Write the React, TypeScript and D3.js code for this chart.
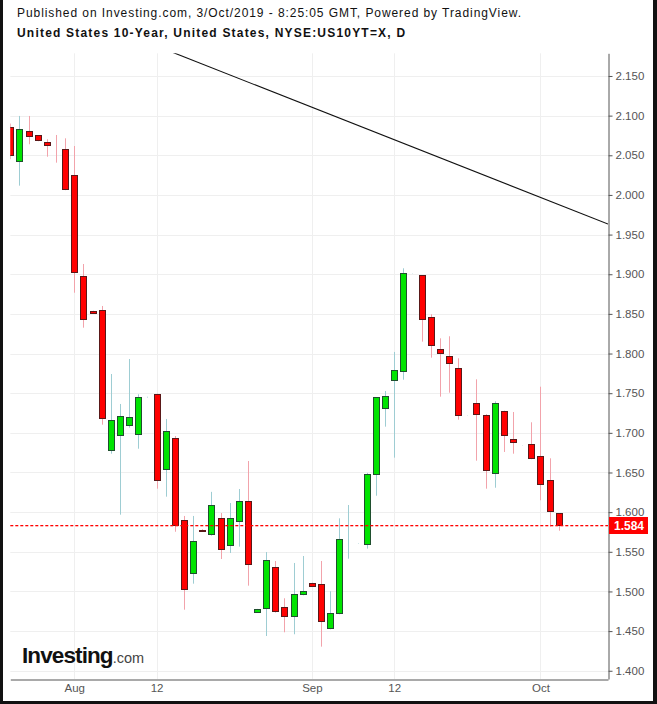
import * as d3 from "d3";
import React, { useEffect, useRef } from "react";

// Daily candles (investing.com feed includes Sunday sessions)
const dates = [
  "2019-07-24", "2019-07-25", "2019-07-26", "2019-07-28", "2019-07-29", "2019-07-30", "2019-07-31",
  "2019-08-01", "2019-08-02", "2019-08-04", "2019-08-05", "2019-08-06", "2019-08-07", "2019-08-08",
  "2019-08-09", "2019-08-11", "2019-08-12", "2019-08-13", "2019-08-14", "2019-08-15", "2019-08-16",
  "2019-08-18", "2019-08-19", "2019-08-20", "2019-08-21", "2019-08-22", "2019-08-23", "2019-08-25",
  "2019-08-26", "2019-08-27", "2019-08-28", "2019-08-29", "2019-08-30", "2019-09-01", "2019-09-03",
  "2019-09-04", "2019-09-05", "2019-09-06", "2019-09-08", "2019-09-09", "2019-09-10", "2019-09-11",
  "2019-09-12", "2019-09-13", "2019-09-15", "2019-09-16", "2019-09-17", "2019-09-18", "2019-09-19",
  "2019-09-20", "2019-09-22", "2019-09-23", "2019-09-24", "2019-09-25", "2019-09-26", "2019-09-27",
  "2019-09-29", "2019-09-30", "2019-10-01", "2019-10-02", "2019-10-03",
];
const opens = [
  2.0853, 2.0424, 2.0803, 2.0752, 2.0664, 2.0608, 2.0576,
  2.0248, 1.8974, 1.8533, 1.8545, 1.678, 1.6969, 1.709,
  1.6982, 1.7448, 1.7486, 1.654, 1.6931, 1.5897, 1.5237,
  1.5773, 1.5721, 1.5922, 1.5582, 1.5885, 1.6137, 1.4737,
  1.4782, 1.5304, 1.48, 1.4687, 1.4964, 1.5103, 1.509,
  1.4535, 1.4725, 1.5603, 1.5603, 1.5594, 1.6477, 1.731,
  1.7663, 1.7776, 1.901, 1.8987, 1.8457, 1.8054, 1.7965,
  1.7814, 1.7221, 1.7373, 1.7221, 1.649, 1.7272, 1.6919,
  1.6843, 1.6856, 1.6704, 1.6405, 1.5986,
];
const highs = [
  2.09, 2.0996, 2.0996, 2.0752, 2.0702, 2.0756, 2.0714,
  2.0617, 1.9129, 1.854, 1.86, 1.7742, 1.7364, 1.7931,
  1.7486, 1.7455, 1.7495, 1.7175, 1.696, 1.5952, 1.5952,
  1.5785, 1.6256, 1.5989, 1.6115, 1.6292, 1.6645, 1.478,
  1.5497, 1.5384, 1.4914, 1.5359, 1.5447, 1.511, 1.5384,
  1.5002, 1.5922, 1.609, 1.5606, 1.6495, 1.745, 1.7528,
  1.802, 1.9075, 1.9012, 1.899, 1.8495, 1.8192, 1.8218,
  1.794, 1.7223, 1.7675, 1.7236, 1.7398, 1.728, 1.7263,
  1.6845, 1.7133, 1.7582, 1.6679, 1.5986,
];
const lows = [
  2.045, 2.0117, 2.0639, 2.0677, 2.0482, 2.0407, 2.006,
  1.8767, 1.8326, 1.85, 1.7103, 1.6737, 1.5968, 1.7065,
  1.68, 1.7445, 1.6296, 1.6195, 1.5753, 1.477, 1.5098,
  1.5755, 1.5703, 1.5409, 1.5485, 1.5565, 1.5073, 1.4735,
  1.4438, 1.4732, 1.4485, 1.446, 1.4951, 1.506, 1.4304,
  1.4522, 1.4712, 1.5413, 1.56, 1.554, 1.6207, 1.7078,
  1.6687, 1.767, 1.9008, 1.815, 1.7948, 1.7456, 1.7506,
  1.7166, 1.7219, 1.6649, 1.6296, 1.6308, 1.6759, 1.6737,
  1.6841, 1.6667, 1.615, 1.5817, 1.5766,
];
const closes = [
  2.0495, 2.0828, 2.0735, 2.0689, 2.0621, 2.0602, 2.0071,
  1.9025, 1.8432, 1.8508, 1.7183, 1.7158, 1.7209, 1.7196,
  1.7448, 1.7452, 1.6402, 1.702, 1.5834, 1.5027, 1.5636,
  1.5758, 1.6087, 1.5531, 1.5922, 1.6137, 1.5342, 1.4775,
  1.5393, 1.4749, 1.4687, 1.4964, 1.5002, 1.5065, 1.4624,
  1.4725, 1.5658, 1.5606, 1.5606, 1.6477, 1.7448, 1.7461,
  1.7789, 1.9012, 1.9012, 1.8432, 1.8104, 1.8003, 1.7877,
  1.7221, 1.7223, 1.7234, 1.6523, 1.7373, 1.6969, 1.6881,
  1.6845, 1.6679, 1.6351, 1.6011, 1.584,
];

const xTickDates = ["2019-08-01", "2019-08-12", "2019-09-01", "2019-09-12", "2019-10-01"];
const xTickLabels = ["Aug", "12", "Sep", "12", "Oct"];
const yTicks = [1.4, 1.45, 1.5, 1.55, 1.6, 1.65, 1.7, 1.75, 1.8, 1.85, 1.9, 1.95, 2.0, 2.05, 2.1, 2.15];
const lastPrice = 1.584;

// drawn trendline: bar position (index, can run past last bar) and yield
const trendIndex = [0, 65.4];
const trendValue = [2.2605, 1.9633];

const W = 657;
const H = 704;
const FONT = "'Liberation Sans', Arial, sans-serif";

const App: React.FC = () => {
  const svgRef = useRef<SVGSVGElement>(null);

  useEffect(() => {
    if (!svgRef.current) return;
    const svg = d3.select(svgRef.current);
    svg.selectAll("*").remove();

    const plot = { left: 10.3, right: 608, top: 53.3, bottom: 679 };

    const x = d3.scaleLinear().domain([0, 65.4]).range([plot.left, plot.right]);
    const y = d3.scaleLinear().domain([1.3896, 2.1786]).range([plot.bottom, plot.top]);

    // frame
    svg.append("rect").attr("width", W).attr("height", H).attr("fill", "#111");
    svg.append("rect").attr("x", 3).attr("y", 0).attr("width", 650).attr("height", 701).attr("fill", "#fff");

    // header
    svg
      .append("text")
      .attr("x", 17)
      .attr("y", 16.7)
      .attr("fill", "#111")
      .style("font-size", "12px")
      .style("letter-spacing", "0.93px")
      .text("Published on Investing.com, 3/Oct/2019 - 8:25:05 GMT, Powered by TradingView.");
    svg
      .append("text")
      .attr("x", 17)
      .attr("y", 37.3)
      .attr("fill", "#111")
      .style("font-size", "12px")
      .style("font-weight", "bold")
      .style("letter-spacing", "1.2px")
      .text("United States 10-Year, United States, NYSE:US10YT=X, D");

    svg
      .append("clipPath")
      .attr("id", "plot-clip")
      .append("rect")
      .attr("x", plot.left)
      .attr("y", plot.top)
      .attr("width", plot.right - plot.left)
      .attr("height", plot.bottom - plot.top);

    const idxOf = (d: string) => dates.indexOf(d);

    // grid
    const grid = svg.append("g").attr("stroke", "#efefef").attr("stroke-width", 1);
    yTicks.forEach((t) => {
      const yy = Math.round(y(t)) + 0.5;
      grid.append("line").attr("x1", plot.left).attr("x2", plot.right).attr("y1", yy).attr("y2", yy);
    });
    xTickDates.forEach((d) => {
      const xx = Math.round(x(idxOf(d))) + 0.5;
      grid.append("line").attr("x1", xx).attr("x2", xx).attr("y1", plot.top).attr("y2", plot.bottom);
    });

    const g = svg.append("g").attr("clip-path", "url(#plot-clip)");

    // candles
    const candles = dates.map((d, i) => ({
      i,
      o: opens[i],
      h: highs[i],
      l: lows[i],
      c: closes[i],
      up: closes[i] >= opens[i],
    }));

    g.selectAll("line.wick")
      .data(candles)
      .join("line")
      .attr("class", "wick")
      .attr("x1", (d) => Math.round(x(d.i)) + 0.5)
      .attr("x2", (d) => Math.round(x(d.i)) + 0.5)
      .attr("y1", (d) => y(d.h))
      .attr("y2", (d) => y(d.l))
      .attr("stroke", (d) => (d.up ? "#9ecdd3" : "#f2a3ab"))
      .attr("stroke-width", 1);

    g.selectAll("rect.body")
      .data(candles)
      .join("rect")
      .attr("class", "body")
      .attr("x", (d) => Math.round(x(d.i)) - 2.5)
      .attr("width", 6)
      .attr("y", (d) => Math.round(y(Math.max(d.o, d.c))) + 0.5)
      .attr("height", (d) => Math.max(0, Math.round(Math.abs(y(d.o) - y(d.c)))))
      .attr("fill", (d) => (d.up ? "#00e400" : "#ff0000"))
      .attr("stroke", (d) => (d.up ? "#1f4f2e" : "#5a1818"))
      .attr("stroke-width", 1);

    // trendline
    g.append("line")
      .attr("x1", x(trendIndex[0]))
      .attr("y1", y(trendValue[0]))
      .attr("x2", x(trendIndex[1]))
      .attr("y2", y(trendValue[1]))
      .attr("stroke", "#111")
      .attr("stroke-width", 1.1);

    // last price line, drawn as short red dashes
    const py = Math.round(y(lastPrice));
    const dashes = d3.range(plot.left, plot.right, 5);
    svg
      .append("g")
      .selectAll("rect")
      .data(dashes)
      .join("rect")
      .attr("x", (d) => d)
      .attr("y", py)
      .attr("width", (d) => Math.min(3, plot.right - d))
      .attr("height", 1.3)
      .attr("fill", "#ff0000");

    // right axis
    const yAxis = svg
      .append("g")
      .attr("transform", `translate(${plot.right + 0.5},0)`)
      .call(
        d3
          .axisRight(y)
          .tickValues(yTicks)
          .tickFormat(d3.format(".3f") as any)
          .tickSize(4)
          .tickSizeOuter(0)
          .tickPadding(3),
      );
    yAxis.select(".domain").attr("stroke", "#555");
    yAxis.selectAll(".tick line").attr("stroke", "#555");
    yAxis
      .selectAll(".tick text")
      .attr("fill", "#555")
      .style("font-size", "11.5px")
      .style("font-family", FONT);

    // bottom axis
    const xAxis = svg
      .append("g")
      .attr("transform", `translate(0,${plot.bottom + 0.5})`)
      .call(
        d3
          .axisBottom(x)
          .tickValues(xTickDates.map(idxOf))
          .tickFormat((_, k) => xTickLabels[k])
          .tickSize(0)
          .tickSizeOuter(0)
          .tickPadding(4),
      );
    xAxis.select(".domain").attr("stroke", "#555");
    xAxis
      .selectAll(".tick text")
      .attr("fill", "#555")
      .style("font-size", "11.5px")
      .style("font-family", FONT);

    // last price label
    svg
      .append("rect")
      .attr("x", plot.right + 1)
      .attr("y", py - 8)
      .attr("width", 39)
      .attr("height", 17)
      .attr("fill", "#ff0000");
    svg
      .append("text")
      .attr("x", plot.right + 6)
      .attr("y", py + 0.5)
      .attr("dy", "0.35em")
      .attr("fill", "#fff")
      .style("font-size", "12px")
      .style("font-weight", "bold")
      .text(d3.format(".3f")(lastPrice));

    // logo
    const logo = svg.append("text").attr("x", 22).attr("y", 663);
    logo
      .append("tspan")
      .attr("fill", "#111")
      .style("font-size", "22.5px")
      .style("font-weight", "bold")
      .style("letter-spacing", "-0.9px")
      .text("Investing");
    logo
      .append("tspan")
      .attr("fill", "#444")
      .style("font-size", "14.5px")
      .text(".com");
  }, []);

  return (
    <svg
      ref={svgRef}
      width={W}
      height={H}
      style={{ position: "absolute", left: 0, top: 0, display: "block", fontFamily: FONT }}
    />
  );
};

export default App;
